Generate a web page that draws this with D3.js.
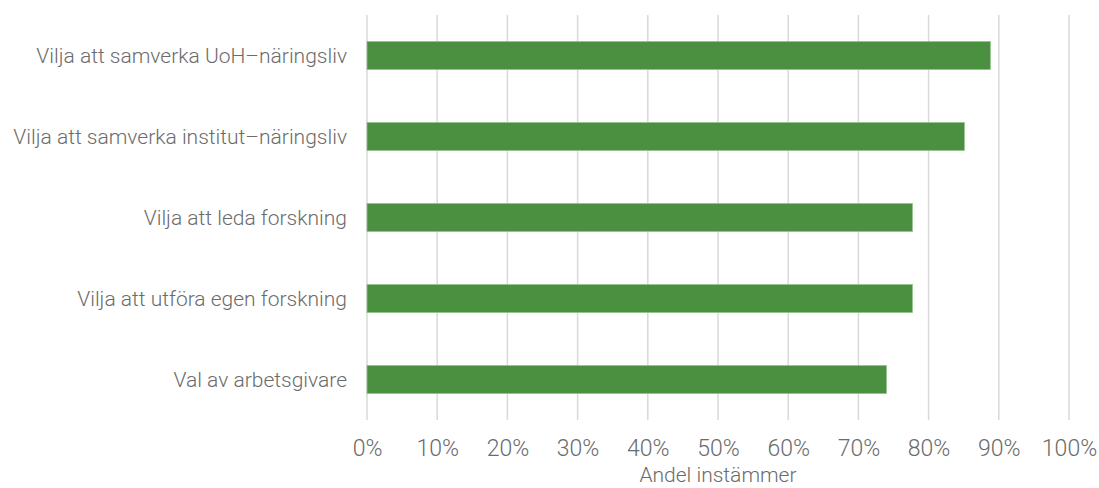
<!DOCTYPE html>
<html>
<head>
<meta charset="utf-8">
<script src="https://cdn.jsdelivr.net/npm/d3@7"></script>
<style>
  html, body { margin: 0; padding: 0; background: #fff; }
  svg { display: block; }
  text { font-family: Roboto, "Liberation Sans", Arial, sans-serif; font-weight: 300; fill: #6b6b6b; }
</style>
</head>
<body>
<svg id="chart" width="1099" height="488"></svg>
<script>
// Share of respondents who agree, per statement
const categories = [
  "Vilja att samverka UoH–näringsliv",
  "Vilja att samverka institut–näringsliv",
  "Vilja att leda forskning",
  "Vilja att utföra egen forskning",
  "Val av arbetsgivare"
];
const values = [0.888, 0.851, 0.777, 0.777, 0.740];
const tickValues = [0, 0.1, 0.2, 0.3, 0.4, 0.5, 0.6, 0.7, 0.8, 0.9, 1.0];
const axisTitle = "Andel instämmer";

const svg = d3.select("#chart");
const plotLeft = 367, plotRight = 1069, plotTop = 15, plotBottom = 420;

const x = d3.scaleLinear().domain([0, 1]).range([plotLeft, plotRight]);
const y = d3.scaleBand().domain(categories).range([plotTop, plotBottom]).paddingInner(0.654).paddingOuter(0.327);

// vertical gridlines
svg.append("g")
  .selectAll("line")
  .data(tickValues)
  .join("line")
  .attr("x1", d => x(d)).attr("x2", d => x(d))
  .attr("y1", plotTop).attr("y2", plotBottom)
  .attr("stroke", "#d9d9d9")
  .attr("stroke-width", 1.5);

// bars
svg.append("g")
  .selectAll("rect")
  .data(categories)
  .join("rect")
  .attr("x", x(0))
  .attr("y", d => y(d))
  .attr("width", (d, i) => x(values[i]) - x(0))
  .attr("height", y.bandwidth())
  .attr("fill", "#4b9041")
  .attr("stroke", "#93c48b")
  .attr("stroke-width", 0.8);

// category labels
svg.append("g")
  .selectAll("text")
  .data(categories)
  .join("text")
  .attr("x", 347)
  .attr("y", d => y(d) + y.bandwidth() / 2)
  .attr("dy", "0.36em")
  .attr("text-anchor", "end")
  .attr("font-size", 21)
  .text(d => d);

// x axis tick labels
const xAxis = d3.axisBottom(x)
  .tickValues(tickValues)
  .tickFormat(d3.format(".0%"))
  .tickSize(0)
  .tickPadding(0);

const ax = svg.append("g")
  .attr("transform", `translate(0, 440)`)
  .call(xAxis);
ax.select(".domain").remove();
ax.selectAll("text")
  .attr("font-size", 23)
  .attr("font-family", null)
  .attr("fill", null);

// axis title
svg.append("text")
  .attr("x", 718)
  .attr("y", 482)
  .attr("text-anchor", "middle")
  .attr("font-size", 21)
  .text(axisTitle);
</script>
</body>
</html>
